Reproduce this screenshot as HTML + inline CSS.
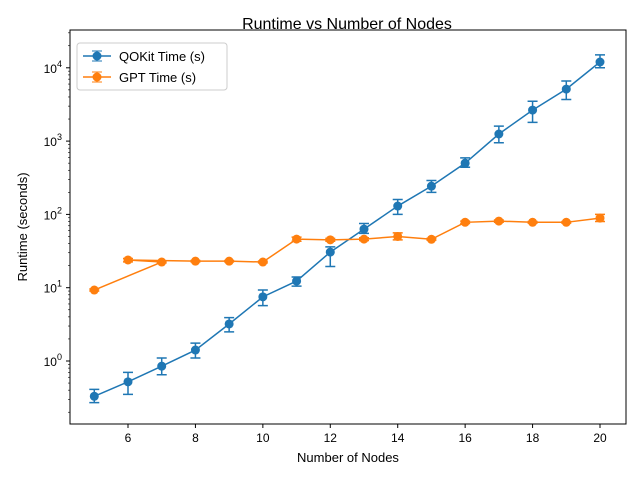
<!DOCTYPE html>
<html><head><meta charset="utf-8"><style>body{margin:0;background:#fff}svg{font-family:"Liberation Sans",sans-serif}</style></head>
<body>
<svg id="chart" width="640" height="480">
<rect width="640" height="480" fill="#fff"/>
<text x="347" y="29" font-size="16" text-anchor="middle">Runtime vs Number of Nodes</text>
<g id="plot"></g>
<rect x="70" y="30" width="556" height="394" fill="none" stroke="#000" stroke-width="1"/>
<text x="348" y="462" font-size="13" text-anchor="middle">Number of Nodes</text>
<text transform="translate(27,227) rotate(-90)" font-size="13" text-anchor="middle">Runtime (seconds)</text>
<g>
<rect x="77" y="43" width="150" height="47" rx="3" fill="#fff" stroke="#ccc"/>
<line x1="83" y1="56" x2="111" y2="56" stroke="#1f77b4" stroke-width="1.5"/>
<line x1="97" y1="51" x2="97" y2="61" stroke="#1f77b4"/><line x1="92" y1="51" x2="102" y2="51" stroke="#1f77b4"/><line x1="92" y1="61" x2="102" y2="61" stroke="#1f77b4"/>
<circle cx="97" cy="56" r="4.5" fill="#1f77b4"/>
<text x="119" y="61" font-size="13">QOKit Time (s)</text>
<line x1="83" y1="77" x2="111" y2="77" stroke="#ff7f0e" stroke-width="1.5"/>
<line x1="97" y1="72" x2="97" y2="82" stroke="#ff7f0e"/><line x1="92" y1="72" x2="102" y2="72" stroke="#ff7f0e"/><line x1="92" y1="82" x2="102" y2="82" stroke="#ff7f0e"/>
<circle cx="97" cy="77" r="4.5" fill="#ff7f0e"/>
<text x="119" y="82" font-size="13">GPT Time (s)</text>
</g>
</svg>
<script>
const nodesQ=[5,6,7,8,9,10,11,12,13,14,15,16,17,18,19,20];
const qokit=[0.33,0.52,0.85,1.41,3.2,7.5,12.3,30.6,63,130,243,500,1250,2650,5120,12000];
const qokitLo=[0.27,0.35,0.65,1.1,2.5,5.7,10.5,19.5,55,100,200,440,950,1800,3700,10000];
const qokitHi=[0.41,0.7,1.1,1.75,3.9,9.3,14,36,75,160,290,590,1600,3500,6600,15000];
const nodesG=[5,7,6,8,9,10,11,12,13,14,15,16,17,18,19,20];
const gpt=[9.3,22.4,23.9,23,23,22.4,46,45,46,50,45.8,78,81,78,78,89];
const gptLo=[9,21.8,22.5,22.5,22.5,21.8,43,43,44,45,44.5,75,78,76,76,80];
const gptHi=[9.6,23,25,23.5,23.5,23,49,47,48,56,47,81,84,80,80,100];
const xTicks=[6,8,10,12,14,16,18,20];
const yTicks=[0,1,2,3,4];
const ns="http://www.w3.org/2000/svg";
const g=document.getElementById('plot');
const X=v=>128+(v-6)*472/14;
const Y=v=>361-Math.log10(v)*73.3;
function mk(t,a,p){const e=document.createElementNS(ns,t);for(const k in a)e.setAttribute(k,a[k]);(p||g).appendChild(e);return e;}
xTicks.forEach(t=>{
 const l=mk('line',{x1:X(t),x2:X(t),y1:424,y2:428,stroke:'#000'});
 
 
 const tx=mk('text',{x:X(t),y:442,'font-size':12,'text-anchor':'middle'});tx.textContent=t;
 
 
});
yTicks.forEach(p=>{
 const y=Y(Math.pow(10,p));
 const l=mk('line',{x1:66,x2:70,y1:y,y2:y,stroke:'#000'});
 
 
 const tx=mk('text',{x:62,y:y+5,'font-size':12,'text-anchor':'end'});
 tx.innerHTML='10<tspan dy="-6" font-size="9">'+p+'</tspan>';
 
 
});
[-1,0,1,2,3,4].forEach(p=>{
 for(let k=2;k<10;k++){const yy=Y(k*Math.pow(10,p));if(yy>30&&yy<424){const m=mk('line',{x1:68,x2:70,y1:yy,y2:yy,stroke:'#000','stroke-width':0.6});
 
 }}
});
function series(xs,ys,lo,hi,c,name){
 const grp=mk('g',{});
 
 
 xs.forEach((x,i)=>{const cx=X(x);
  const e=mk('path',{d:`M${cx},${Y(lo[i])}V${Y(hi[i])}M${cx-5},${Y(lo[i])}h10M${cx-5},${Y(hi[i])}h10`,stroke:c,'stroke-width':1.5,fill:'none'},grp);
  
  });
 const ln=mk('polyline',{points:xs.map((x,i)=>X(x)+','+Y(ys[i])).join(' '),fill:'none',stroke:c,'stroke-width':1.5},grp);
 
 
 xs.forEach((x,i)=>{const p=mk('circle',{cx:X(x),cy:Y(ys[i]),r:4.5,fill:c},grp);
  
  });
}
series(nodesQ,qokit,qokitLo,qokitHi,'#1f77b4','qokit');
series(nodesG,gpt,gptLo,gptHi,'#ff7f0e','gpt');
</script>
</body></html>
